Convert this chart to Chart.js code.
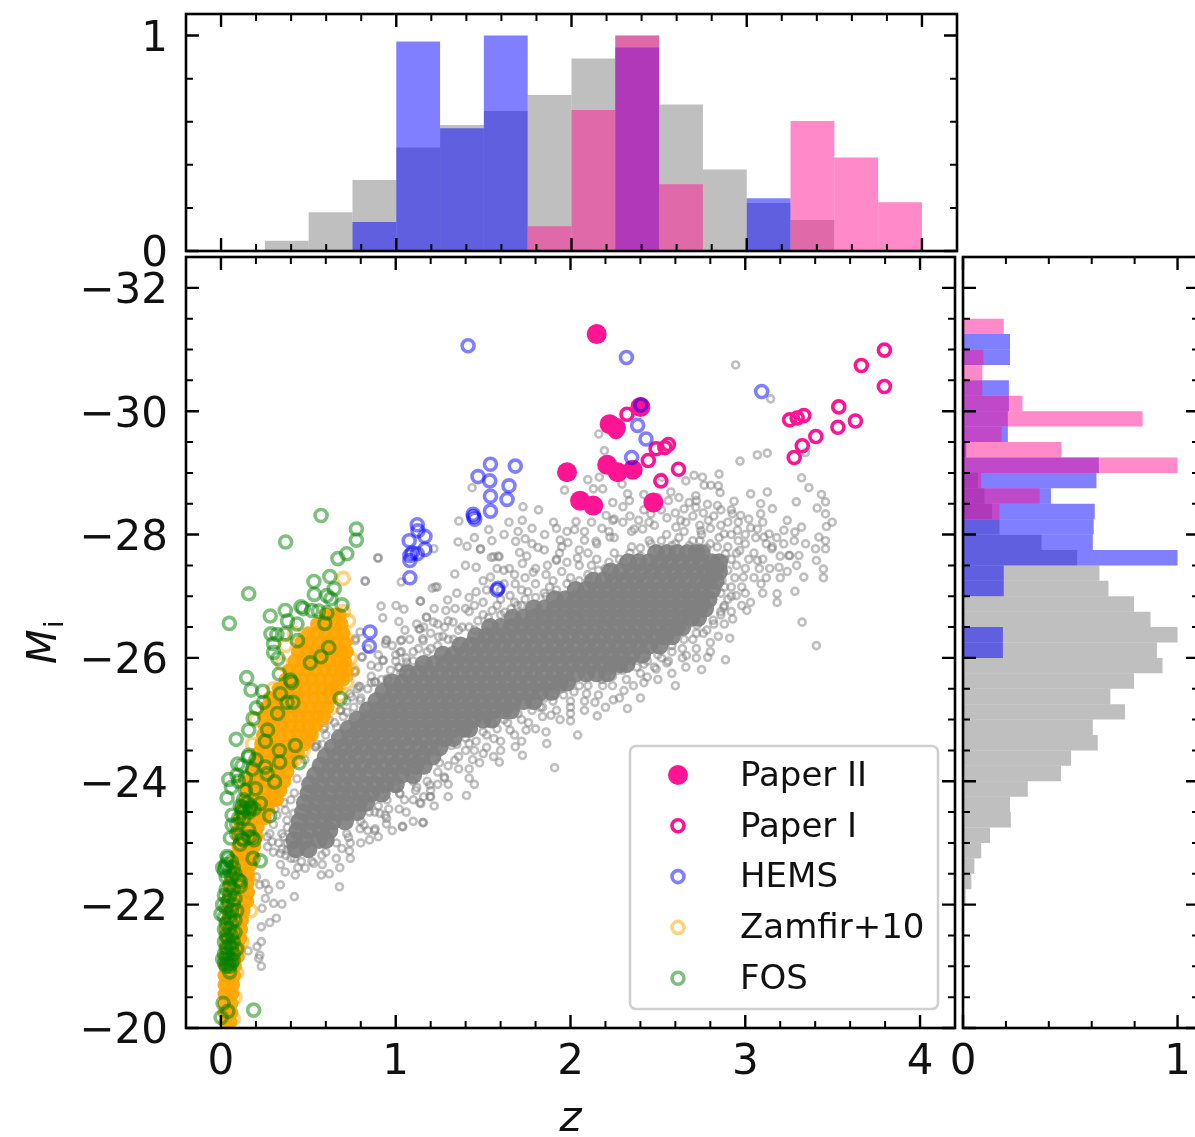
<!DOCTYPE html>
<html>
<head>
<meta charset="utf-8">
<title>Mi vs z</title>
<script src="https://cdn.jsdelivr.net/npm/chart.js@4"></script>
<style>
  html, body { margin: 0; padding: 0; background: #fff; overflow: hidden; }
  #page { position: relative; width: 1195px; height: 1137px; overflow: hidden; }
  canvas { position: absolute; filter: blur(0.6px); }
</style>
</head>
<body>
<div id="page">
  <canvas id="top" width="965" height="270" style="left:0;top:0"></canvas>
  <canvas id="side" width="265" height="892" style="left:940px;top:245px"></canvas>
  <canvas id="main" width="965" height="892" style="left:0;top:245px"></canvas>
</div>
<script>
const FONT = '"DejaVu Sans"'

// histogram bins
const zBins = [0.375, 0.625, 0.875, 1.125, 1.375, 1.625, 1.875, 2.125, 2.375, 2.625, 2.875, 3.125, 3.375, 3.625, 3.875]
const zHistGrey = [0.047, 0.18, 0.33, 0.48, 0.585, 0.65, 0.724, 0.893, 1.0, 0.68, 0.378, 0.223, 0.144, 0, 0]
const zHistHems = [0, 0, 0.135, 0.972, 0.57, 1.0, 0, 0, 0.945, 0, 0, 0.245, 0, 0, 0]
const zHistPink = [0, 0, 0, 0, 0, 0, 0.115, 0.654, 1.0, 0.31, 0, 0, 0.603, 0.434, 0.226]

const mBins = [-31.375, -31.125, -30.875, -30.625, -30.375, -30.125, -29.875, -29.625, -29.375, -29.125,
  -28.875, -28.625, -28.375, -28.125, -27.875, -27.625, -27.375, -27.125, -26.875, -26.625,
  -26.375, -26.125, -25.875, -25.625, -25.375, -25.125, -24.875, -24.625, -24.375, -24.125,
  -23.875, -23.625, -23.375, -23.125, -22.875, -22.625, -22.375, -22.125]
const mHistGrey = [0, 0, 0, 0, 0, 0, 0, 0, 0.01, 0, 0.07, 0.1, 0.135, 0.17, 0.366, 0.532, 0.636, 0.678, 0.797, 0.874,
  1.0, 0.904, 0.93, 0.797, 0.687, 0.755, 0.605, 0.628, 0.504, 0.457, 0.302, 0.219, 0.223, 0.126, 0.085, 0.053, 0.039, 0.012]
const mHistHems = [0, 0.219, 0.219, 0, 0.214, 0.214, 0.209, 0.209, 0.015, 0.633, 0.622, 0.41, 0.614, 0.609, 0.605, 1.0, 0.19, 0.19, 0, 0,
  0.186, 0.186, 0, 0, 0, 0, 0, 0, 0, 0, 0, 0, 0, 0, 0, 0, 0, 0]
const mHistPink = [0.19, 0, 0.095, 0.09, 0.09, 0.277, 0.837, 0.18, 0.459, 1.0, 0.085, 0.357, 0.17, 0, 0, 0, 0, 0, 0, 0,
  0, 0, 0, 0, 0, 0, 0, 0, 0, 0, 0, 0, 0, 0, 0, 0, 0, 0]

// scatter samples, [z, Mi]
const paperII = [[2.15,-31.25],[2.224,-29.79],[2.26,-29.73],[1.98,-29.01],[2.21,-29.13],[2.27,-29.01],[2.356,-29.05],[2.055,-28.55],[2.13,-28.47],[2.474,-28.52],[2.40,-30.07]]
const paperI = [[3.796,-30.99],[3.664,-30.74],[3.796,-30.40],[3.535,-30.07],[3.63,-29.84],[3.53,-29.74],[3.404,-29.59],[3.335,-29.93],[3.297,-29.89],[3.254,-29.86],[3.326,-29.44],[3.28,-29.25],[2.618,-29.06],[2.56,-29.46],[2.54,-29.41],[2.49,-29.39],[2.445,-29.2],[2.517,-28.87],[2.323,-29.95],[2.40,-30.07],[2.26,-29.67]]
const hems = [[1.414,-31.06],[2.32,-30.87],[3.094,-30.32],[2.403,-30.10],[2.384,-29.77],[2.432,-29.55],[2.35,-29.25],[1.542,-29.14],[1.684,-29.11],[1.471,-28.94],[1.538,-28.87],[1.648,-28.79],[1.542,-28.62],[1.637,-28.57],[1.542,-28.38],[1.443,-28.33],[1.452,-28.25],[1.445,-28.29],
  [1.123,-28.16],[1.127,-28.06],[1.167,-27.97],[1.077,-27.9],[1.167,-27.76],[1.123,-27.69],[1.081,-27.66],[1.081,-27.58],[1.094,-27.7],[1.081,-27.3],[0.853,-26.42],[0.849,-26.19],[1.585,-27.13],[1.58,-27.1]]
const fos = [[0.573,-28.31],[0.775,-28.09],[0.775,-27.91],[0.37,-27.88],[0.72,-27.69],[0.669,-27.61],[0.623,-27.32],[0.532,-27.24],[0.159,-27.04],[0.648,-27.12],[0.534,-27.03],[0.629,-26.96],[0.606,-27.01],[0.693,-26.86],[0.048,-26.56],[0.282,-26.68],[0.368,-26.77],[0.458,-26.83],[0.471,-26.80],[0.52,-26.77],[0.558,-26.76],[0.606,-26.73],[0.381,-26.6],[0.594,-26.56],[0.435,-26.55],[0.286,-26.39],[0.32,-26.38],[0.368,-26.39],[0.438,-26.28],[0.301,-26.23],[0.301,-26.09],[0.326,-25.99],[0.617,-26.17],[0.572,-26.02],[0.511,-25.92],[0.147,-25.68],[0.172,-25.48],[0.334,-25.74],[0.397,-25.64],[0.405,-25.6],[0.239,-25.46],[0.244,-25.28],[0.34,-25.42],[0.378,-25.28],[0.412,-25.28],[0.682,-25.34],[0.324,-25.1],[0.203,-25.19],[0.184,-25.02],[0.159,-24.83],[0.087,-24.68],[0.267,-24.83],[0.254,-24.65],[0.425,-24.58],[0.334,-24.5],[0.159,-24.42],[0.448,-24.3],
  [0.096,-24.28],[0.157,-24.39],[0.045,-24.03],[0.092,-24.1],[0.254,-24.23],[0.264,-24.12],[0.307,-23.99],[0.336,-24.31],[0.035,-23.73],[0.14,-23.85],[0.197,-23.88],[0.121,-23.58],[0.168,-23.56],[0.225,-23.64],[0.279,-23.44],[0.064,-23.45],[0.064,-23.29],[0.159,-23.21],[0.178,-23.09],[0.121,-23.07],[0.054,-23.08],[0.184,-22.75],[0.225,-22.71],[0.035,-22.78],[0.026,-22.61],[0.111,-22.37],
  [0.13,-23.7],[0.15,-23.65],[0.11,-23.6],[0.14,-23.55],[0.17,-23.6],[0.12,-23.5],[0.16,-23.5],[0.19,-23.55],[0.1,-23.4],[0.13,-23.4],[0.09,-23.15],[0.13,-23.05],[0.16,-23.1],[0.19,-23.05],[0.11,-22.98],[0.09,-23.3],[0.1,-24.0],[0.14,-24.05],[0.18,-24.2],[0.2,-24.35],[0.12,-24.25],[0.06,-23.9],
  [0.04,-22.75],[0.06,-22.7],[0.03,-22.65],[0.07,-22.6],[0.02,-22.55],[0.05,-22.55],[0.08,-22.5],[0.03,-22.45],[0.06,-22.45],[0.01,-22.6],[0.1,-22.4],[0.05,-22.3],[0.03,-22.25],[0.07,-22.25],[0.11,-22.3],[0.02,-22.15],[0.05,-22.15],[0.08,-22.1],[0.04,-22.05],[0.07,-22.0],[0.01,-22],[0.03,-21.95],[0.06,-21.9],[0.09,-21.9],[0.0,-21.85],[0.02,-21.8],[0.05,-21.8],[0.08,-21.75],[0.03,-21.7],[0.06,-21.7],[0.02,-21.6],[0.05,-21.6],[0.08,-21.55],[0.03,-21.5],[0.06,-21.5],[0.04,-21.45],[0.02,-21.4],[0.07,-21.4],[0.05,-21.35],[0.03,-21.3],[0.06,-21.3],[0.09,-21.28],[0.02,-21.2],[0.04,-21.2],[0.07,-21.2],[0.01,-21.12],[0.03,-21.12],[0.05,-21.12],[0.07,-21.1],[0.02,-21.05],[0.04,-21.05],[0.06,-21.05],[0.03,-21.0],[0.05,-21.0],
  [0.05,-20.91],[0.012,-20.4],[0.04,-20.27],[0.001,-20.17],[0.187,-20.29]]
const zamfirRings = [[0.70,-27.29],[0.74,-26.0],[0.75,-25.8],[0.72,-26.3],[0.73,-26.6],[0.7,-26.75],[0.72,-25.6],[0.68,-25.4],[0.64,-25.2],[0.58,-25],[0.5,-24.7],[0.47,-24.5],[0.42,-24.35],[0.36,-24],[0.3,-23.8],[0.25,-23.5],[0.2,-23.1],[0.16,-22.4],[0.17,-21.9],[0.12,-21.4],[0.1,-21.2],[0.09,-20.9],[0.08,-20.5],[0.07,-20.15],[0.42,-26.4],[0.37,-26.2],[0.3,-25.5],[0.2,-25],[0.18,-24.6],[0.13,-24.0],[0.35,-25.9],[0.1,-23.2],[0.05,-22.2]]
// packed part of the orange cloud, one list of z per Mi row
const zamfirCoreM = [-20.1,-20.25,-20.4,-20.55,-20.7,-20.85,-21,-21.15,-21.3,-21.45,-21.6,-21.75,-21.9,-22.05,-22.2,-22.35,-22.5,-22.65,-22.8,-22.95,-23.1,-23.25,-23.4,-23.55,-23.7,-23.85,-24,-24.15,-24.3,-24.45,-24.6,-24.75,-24.9,-25.05,-25.2,-25.35,-25.5,-25.65,-25.8,-25.95,-26.1,-26.25,-26.4,-26.55,-26.7]
const zamfirCoreZ = [[.025,.055],[.02,.06],[.02,.06],[.02,.065],[.02,.07],[.02,.075],[.025,.08],[.025,.095],[.03,.1],[.03,.07,.11],[.03,.07,.115],[.035,.08,.12],[.04,.085,.13],[.04,.09,.15],[.05,.1,.155],[.05,.1,.15],[.07,.11,.155],[.08,.12,.17],[.09,.13,.18],[.1,.15,.19],[.1,.15,.2],[.11,.16,.21],[.11,.16,.21,.25],[.12,.17,.22,.27],[.14,.19,.24,.29,.32],[.15,.2,.25,.3,.34],[.16,.21,.26,.31,.36],[.18,.23,.28,.33,.38],[.2,.25,.3,.35,.4],[.21,.26,.31,.36,.41,.44],[.23,.28,.33,.38,.43,.48],[.24,.29,.34,.39,.44,.49,.52],[.25,.3,.35,.4,.45,.5,.54],[.25,.3,.35,.4,.45,.5,.55,.59],[.26,.31,.36,.41,.46,.51,.56,.61],[.28,.33,.38,.43,.48,.53,.58,.63],[.33,.38,.43,.48,.53,.58,.63,.66],[.37,.42,.47,.52,.57,.62,.67,.7],[.39,.44,.49,.54,.59,.64,.69,.72],[.42,.47,.52,.57,.62,.67,.71],[.44,.49,.54,.59,.64,.69,.72],[.46,.51,.56,.61,.66,.71],[.5,.55,.6,.65,.7],[.55,.6,.65,.69],[.6,.65,.68]]
const greyRings = [[2.945,-30.75],[3.145,-30.2],[2.162,-29.63],[2.194,-29.36],[2.97,-29.19],[3.069,-29.29],[3.126,-29.32],[3.345,-29.33],[1.437,-28.76],[2.099,-28.89],[2.165,-28.93],[1.966,-28.72],[2.131,-28.74],[2.184,-28.74],[2.295,-28.82],[2.327,-28.66],[2.337,-28.55],[2.242,-28.52],[1.728,-28.45],[1.817,-28.4],[1.361,-28.22],[1.648,-28.2],[1.724,-28.23],[1.903,-28.2],[1.532,-28.08],[2.032,-28.21],[2.023,-28.08],[2.204,-28.31],[2.242,-28.23],[2.39,-28.23],[2.365,-28.09],[2.413,-28.09],[2.46,-28.335],[2.552,-28.27],[2.631,-28.23],[2.603,-28.12],[2.574,-28.69],[2.523,-28.93],[2.66,-28.87],[2.707,-28.96],[2.755,-28.93],[2.85,-28.98],[2.765,-28.8],[2.803,-28.8],[2.846,-28.79],[2.856,-28.68],[2.717,-28.63],[2.679,-28.52],[2.65,-28.415],[2.717,-28.44],[2.784,-28.49],[2.841,-28.47],[2.936,-28.54],[2.926,-28.335],[2.974,-28.31],[3.031,-28.66],[3.126,-28.69],[3.088,-28.5],[3.155,-28.42],[3.088,-28.335],[3.322,-28.92],[3.364,-28.76],[3.292,-28.53],[3.436,-28.65],[3.459,-28.53],[3.411,-28.43],[3.459,-28.335],[3.497,-28.2],[3.464,-28.13],[3.24,-28.23],[3.322,-28.12],[3.221,-28.07],[3.284,-28.04],[3.031,-28.11],[3.069,-28.09],[3.136,-28.01],[3.107,-27.96],[2.955,-28.07],[2.746,-28.06],[2.789,-28.23],[2.879,-28.01],[3.155,-27.8],[3.25,-27.66],[3.307,-27.66],[3.459,-27.9],[3.421,-27.96],[3.345,-27.85],[3.402,-27.77],[3.459,-27.77],[1.357,-27.88],[1.408,-27.81],[1.485,-27.76],[1.741,-27.93],[1.852,-28.0],[1.686,-27.89],[1.941,-27.91],[1.985,-27.87],[2.08,-27.91],[2.146,-27.89],[2.226,-27.96],[1.814,-27.79],[1.709,-27.71],[1.591,-27.64],[1.547,-27.63],[1.937,-27.7],
  [0.9,-27.62],[0.825,-27.24],[1.032,-27.23],[1.14,-26.92],[0.916,-26.84],[1.002,-26.85],[1.047,-26.79],[0.926,-26.65],[1.018,-26.59],[1.053,-26.45],[1.134,-26.47],[1.175,-26.66],[1.216,-26.58],[1.226,-27.15],[1.297,-26.94],[1.287,-26.77],[1.328,-26.58],[1.246,-26.34],[1.155,-26.31],[0.945,-26.28],[1.028,-26.28],[1.032,-26.1],[0.808,-26.02],[0.859,-25.88],[0.926,-25.96],[0.771,-26.31],[0.941,-26.23],[0.767,-25.77],[1.022,-25.84],[1.073,-25.74],[0.788,-25.54],[0.88,-25.61],[0.951,-25.66],[1.144,-25.88],[0.747,-25.37],[0.686,-25.15],[0.829,-25.2],[0.594,-24.88],[0.543,-24.56],[1.338,-27.36],[1.399,-27.5],[1.46,-27.47],[1.485,-27.77],[1.562,-27.64],[1.587,-27.65],[1.542,-27.31],[1.619,-27.42],[1.684,-27.2],[1.725,-27.53],[1.787,-27.39],[1.868,-27.5],[1.919,-27.58],[1.46,-27.07],[1.399,-26.8],[1.45,-26.85],[1.552,-26.77],[1.654,-27.01],[1.695,-26.85],[1.756,-27.07],[1.623,-26.74],
  [3.152,-27.77],[3.254,-27.66],[3.294,-27.5],[3.407,-27.58],[3.447,-27.44],[3.335,-27.31],[3.447,-27.3],[3.284,-27.08],[3.182,-27.04],[3.182,-26.9],[3.03,-26.9],[3.09,-27.2],[2.989,-27.31],[3.193,-27.47],[3.07,-27.58],[2.968,-27.74],[2.887,-27.69],[2.867,-27.26],[2.948,-27.01],[3.009,-26.77],[2.928,-26.63],[2.877,-26.82],[2.816,-26.61],[3.325,-26.58],[3.407,-26.2],[2.911,-26.32],[2.846,-26.35],[2.724,-26.53],[2.785,-26.01],[2.887,-25.97],[2.75,-25.81],[2.663,-26.04],[2.551,-25.92],[2.49,-25.82],[2.439,-25.69],[2.326,-25.18],[2.153,-25.06],[2.245,-25.32],[2.306,-25.47],[2.184,-25.55],[2.092,-25.42],[2.0,-24.98],[2.041,-24.75],[1.864,-24.61],[1.909,-24.22],[1.725,-24.42],[1.684,-24.56],[1.593,-24.31],[1.746,-24.83],[1.654,-24.83],[1.562,-24.69],[1.888,-25.07],[2.0,-25.2],[1.827,-25.2],[1.909,-25.39],[1.45,-23.95],[1.405,-23.77],[1.2,-23.75],[1.144,-23.64],[1.155,-23.33],[1.038,-23.27],[0.947,-23.31],[0.879,-23.2],[1.338,-24.34],[1.277,-24.07],[1.195,-23.94],[1.114,-23.85],[1.022,-23.8],[0.91,-23.48],[0.818,-23.29],[1.501,-24.45],[1.42,-24.61],[1.318,-24.58],
  [0.42,-23.81],[0.34,-23.8],[0.435,-24.04],[1.138,-23.65],[1.196,-23.75],[1.024,-23.8],[1.158,-23.33],[1.04,-23.26],[0.948,-23.4],[0.882,-23.23],[0.796,-23.23],[0.73,-23.09],[0.577,-22.8],[0.735,-22.87],[0.692,-22.91],[0.53,-22.67],[0.482,-22.59],[0.574,-22.48],[0.678,-22.29],[0.42,-22.13],[0.425,-22.48],[0.368,-22.53],[0.34,-22.32],[0.264,-23.1],[0.349,-23.15],[0.292,-23.02],[0.267,-22.94],[0.368,-23.53],[0.416,-23.48],[0.378,-23.37],[0.435,-23.1],[0.34,-22.83],[0.378,-22.88],[0.222,-22.32],[0.254,-22.34],[0.203,-22.45],[0.273,-22.24],[0.254,-22.1],[0.302,-22.02],[0.349,-22.01],[0.235,-21.94],[0.317,-21.78],[0.279,-21.71],[0.231,-21.64],[0.231,-21.4],[0.206,-21.32],[0.155,-21.25],[0.216,-21.13],[0.231,-21.0],[0.222,-21.18],
  [0.897,-27.62],[0.825,-27.25],[1.218,-27.77],[1.209,-27.13],[1.237,-27.15],[1.142,-26.92],[1.177,-26.66],[0.796,-26.42],[0.768,-26.28],[0.948,-26.29],[1.034,-26.29],[1.139,-26.47],[1.157,-26.28],[1.024,-26.09],[0.929,-25.96],[0.806,-26.01],[0.768,-25.79],[0.73,-25.68],[1.063,-25.93],[1.015,-25.85],[0.952,-25.64],[0.882,-25.61],[0.796,-25.53],[0.739,-25.42],[0.796,-25.31],[0.72,-25.12],[0.682,-25.15],[0.587,-24.85],[0.492,-24.66],[0.54,-24.56],[0.663,-24.88],
  [1.5,-26.9],[1.6,-26.95],[1.72,-27.1],[1.8,-27.2],[1.85,-27.05],[1.9,-27.25],[1.95,-27.4],[2.0,-27.3],[2.05,-27.5],[2.1,-27.35],[2.15,-27.6],[2.2,-27.45],[2.25,-27.7],[2.3,-27.55],[2.35,-27.8],[2.4,-27.65],[2.45,-27.9],[2.5,-27.75],[2.55,-28.0],[2.6,-27.85],[2.65,-28.05],[2.7,-27.9],[2.75,-28.0],[2.8,-27.85],[2.85,-27.95],[2.9,-27.8],[2.95,-27.7],[3.0,-27.85],[3.05,-27.7],[3.1,-27.6],[3.0,-27.45],[3.05,-27.3],[2.95,-27.5],[2.92,-27.15],[3.0,-27.05],[3.1,-27.05],[2.98,-26.85],[2.9,-26.95],[2.86,-26.75],[1.65,-27.45],[1.75,-27.65],[1.85,-27.75],[1.95,-27.8],[2.05,-27.75],[2.15,-27.85],[2.25,-27.95],[2.35,-28.05],[2.45,-28.2],[1.3,-26.6],[1.38,-26.5],[1.42,-26.75],[1.5,-26.7],[1.58,-26.85],[1.68,-26.9],[1.74,-26.95],[1.2,-26.4],[1.3,-26.3],[1.1,-26.1],[1.2,-26.15],[1.0,-25.95],
  [1.4,-24.7],[1.5,-24.8],[1.45,-24.5],[1.55,-24.95],[1.62,-25.0],[1.7,-25.1],[1.78,-25.3],[1.85,-25.35],[1.95,-25.5],[2.0,-25.6],[2.05,-25.55],[2.1,-25.7],[2.2,-25.7],[2.27,-25.8],[2.35,-25.95],[2.42,-25.9],[2.5,-26.05],[2.58,-26.2],[2.65,-26.3],[2.72,-26.4],[2.78,-26.45],[1.25,-24.3],[1.35,-24.6],[1.1,-24.0],[1.0,-23.9],[0.9,-23.6],[0.95,-23.7],[0.85,-23.5],[0.85,-23.05],[0.8,-23.0],[0.3,-23.3],[0.35,-22.9],[0.32,-23.45],[0.38,-23.0],[0.4,-22.75]]
// rings crowding both edges of the packed band
const greyBelt = [[.48,-24.35],[.55,-24.6],[.52,-24.75],[.6,-24.75],[.58,-24.6],[.65,-24.95],[.7,-25.05],[.62,-25.0],[.72,-25.3],[.76,-25.2],[.8,-25.35],[.78,-25.5],[.84,-25.5],[.86,-25.7],[.92,-25.65],[.9,-25.85],[.97,-25.8],[1.03,-25.75],[1.0,-26.05],[1.06,-26.0],[1.1,-25.95],[1.13,-26.15],[1.18,-26.1],[1.24,-26.2],[1.27,-26.35],[1.33,-26.3],[1.28,-26.5],[1.36,-26.45],[1.42,-26.5],[1.47,-26.6],[1.45,-26.45],[1.53,-26.65],[1.6,-26.7],[1.66,-26.8],[1.72,-26.85],[1.8,-26.98],[1.86,-27.0],[1.92,-27.1],[1.98,-27.2],[1.88,-27.15],[2.05,-27.25],[2.1,-27.25],[2.16,-27.42],[2.22,-27.55],[2.28,-27.6],[2.12,-27.5],[2.34,-27.7],[2.4,-27.78],[2.46,-27.85],[2.52,-27.9],[2.58,-27.82],[2.62,-27.95],[2.68,-27.82],[2.74,-27.9],[2.78,-27.78],[2.84,-27.8],[2.88,-27.6],[2.92,-27.6],[2.9,-27.42],[2.94,-27.3],[2.98,-27.15],[2.88,-27.15],[2.92,-27.0],[2.86,-27.05],
  [.52,-22.7],[.6,-22.85],[.66,-23.0],[.72,-23.15],[.8,-23.35],[.88,-23.5],[.96,-23.55],[1.05,-23.7],[1.12,-23.9],[1.18,-24.0],[1.24,-24.15],[1.3,-24.25],[1.36,-24.4],[1.4,-24.5],[1.46,-24.65],[1.52,-24.75],[1.58,-24.85],[1.64,-24.95],[1.72,-25.0],[1.78,-25.15],[1.84,-25.2],[1.9,-25.3],[1.96,-25.4],[2.02,-25.45],[2.1,-25.55],[2.18,-25.65],[2.24,-25.7],[2.3,-25.8],[2.38,-25.85],[2.44,-25.95],[2.52,-26.0],[2.58,-26.1],[2.64,-26.15],[2.7,-26.3],[2.76,-26.4],[2.82,-26.55],[2.86,-26.7],[2.88,-26.85],
  [.58,-22.65],[.66,-22.75],[.74,-23.0],[.84,-23.2],[.94,-23.45],[1.02,-23.55],[1.1,-23.7],[1.2,-23.85],[1.28,-24.05],[1.36,-24.2],[1.44,-24.35],[1.52,-24.55],[1.6,-24.65],[1.68,-24.75],[1.76,-24.95],[1.84,-25.05],[1.92,-25.15],[2.0,-25.3],[2.08,-25.3],[2.16,-25.4],[2.24,-25.55],[2.32,-25.65],[2.4,-25.75],[2.48,-25.85],[2.56,-25.95],[2.64,-26.0],[2.72,-26.15],[2.8,-26.25],[2.88,-26.55],[2.92,-26.75],
  [.36,-23.65],[.4,-23.7],[.38,-23.25],[.41,-23.2],[.36,-23.1],[.4,-22.95],[.33,-23.0],[.37,-22.8],[.42,-22.75],[.46,-22.7],[.34,-22.65],[.3,-22.85],[.28,-23.15],[.31,-23.55],[.44,-22.6]]
// looser field above and below the band
const greyField = [[2.22,-28.05],[2.3,-28.2],[2.34,-28.3],[2.42,-28.4],[2.48,-28.15],[2.52,-28.4],[2.56,-28.55],[2.6,-28.35],[2.62,-28.6],[2.66,-28.2],[2.7,-28.3],[2.74,-28.15],[2.76,-28.35],[2.8,-28.1],[2.82,-28.3],[2.86,-28.15],[2.9,-28.2],[2.92,-28.4],[2.96,-28.2],[3.0,-28.0],[3.02,-28.25],[3.06,-27.95],[3.1,-28.2],[3.12,-27.85],[3.18,-27.95],[3.2,-27.65],[3.22,-27.85],[3.28,-27.9],[3.14,-27.45],[3.2,-27.3],[3.12,-27.3],[3.24,-27.4],[3.02,-27.6],[3.08,-27.45],[2.96,-27.9],[2.92,-28.0],[2.86,-28.4],[2.72,-28.55],[2.5,-28.6],[2.42,-28.65],[2.3,-28.45],[2.25,-28.25],[2.18,-28.1],[2.12,-28.2],[2.08,-28.05],[1.98,-28.05],[1.92,-28.1],[1.78,-28.1],[1.7,-28.05],[1.62,-28.0],[1.55,-27.9],[1.45,-27.95],
  [1.5,-27.25],[1.58,-27.45],[1.62,-27.2],[1.68,-27.35],[1.74,-27.3],[1.8,-27.45],[1.86,-27.35],[1.92,-27.6],[1.98,-27.55],[2.04,-27.62],[2.1,-27.7],[1.78,-27.85],[1.35,-27.05],[1.42,-26.98],[1.52,-27.1],[1.6,-27.1],[1.34,-26.8],[1.22,-26.8],[1.16,-26.5],[1.24,-26.55],[1.08,-26.3],[1.12,-26.55],[1.06,-25.85],[.98,-26.2],[.9,-26.05],[.86,-25.6],[.84,-26.15],
  [2.0,-25.1],[2.08,-25.15],[2.14,-25.28],[2.2,-25.2],[2.28,-25.35],[2.36,-25.55],[2.42,-25.6],[2.5,-25.65],[2.58,-25.75],[2.66,-25.85],[2.72,-26.0],[2.8,-26.1],[2.6,-25.55],[2.4,-25.35],[1.8,-24.85],[1.86,-24.8],[1.72,-24.65],[1.94,-25.0],[1.6,-24.5],[1.48,-24.3],[1.42,-24.2],[1.3,-23.95],[1.24,-23.95],[1.16,-23.75],[1.06,-23.5],[.98,-23.2],[.9,-23.1],[.74,-22.75],[.68,-22.6],[.62,-22.5],[1.1,-23.35],[1.22,-23.6],[1.3,-23.75],[1.42,-24.05],[1.56,-24.4]]
// packed part of the grey band, one list of z per Mi row
const greyCoreM = [-22.9,-23.05,-23.2,-23.35,-23.5,-23.65,-23.8,-23.95,-24.1,-24.25,-24.4,-24.55,-24.7,-24.85,-25,-25.15,-25.3,-25.45,-25.6,-25.75,-25.9,-26.05,-26.2,-26.35,-26.5,-26.65,-26.8,-26.95,-27.1,-27.25,-27.4,-27.55,-27.7]
const greyCoreZ = [[.43,.5],[.42,.48,.56,.6],[.44,.5,.57,.62],[.45,.52,.58,.64,.71],[.47,.53,.6,.65,.72,.78],[.48,.55,.61,.67,.72,.79,.83],[.5,.56,.62,.69,.74,.8,.86,.92],[.51,.57,.64,.7,.76,.82,.88,.94,1.0],[.54,.6,.66,.72,.78,.84,.91,.97,1.03,1.1],[.57,.63,.69,.75,.81,.87,.93,.99,1.05,1.11,1.16],[.6,.66,.72,.78,.85,.9,.97,1.03,1.09,1.15,1.21],[.64,.7,.76,.82,.88,.94,1.0,1.06,1.13,1.19,1.25],[.68,.74,.8,.86,.92,.98,1.04,1.1,1.16,1.22,1.28,1.33],[.73,.79,.85,.91,.97,1.03,1.09,1.15,1.21,1.27,1.33,1.39,1.42],[.78,.84,.9,.96,1.02,1.08,1.14,1.2,1.26,1.32,1.38,1.44,1.5,1.55],[.84,.9,.96,1.02,1.08,1.14,1.2,1.26,1.32,1.38,1.44,1.5,1.56,1.62,1.66],[.89,.95,1.01,1.07,1.13,1.19,1.25,1.31,1.37,1.43,1.49,1.55,1.61,1.67,1.73,1.79],[.93,.99,1.05,1.11,1.17,1.23,1.29,1.35,1.41,1.47,1.53,1.59,1.65,1.71,1.77,1.83,1.89],[.98,1.04,1.1,1.16,1.22,1.28,1.34,1.4,1.46,1.52,1.58,1.64,1.7,1.76,1.82,1.88,1.94,1.98],
  [1.07,1.13,1.19,1.25,1.31,1.37,1.43,1.49,1.55,1.61,1.67,1.73,1.79,1.85,1.91,1.97,2.03,2.09,2.15,2.21],[1.16,1.22,1.28,1.34,1.4,1.46,1.52,1.58,1.64,1.7,1.76,1.82,1.88,1.94,2.0,2.06,2.12,2.18,2.24,2.28,2.32],[1.27,1.33,1.39,1.45,1.51,1.57,1.63,1.69,1.75,1.81,1.87,1.93,1.99,2.05,2.11,2.17,2.23,2.29,2.35,2.41],[1.37,1.43,1.49,1.55,1.61,1.67,1.73,1.79,1.85,1.91,1.97,2.03,2.09,2.15,2.21,2.27,2.33,2.39,2.45,2.51],[1.46,1.52,1.58,1.64,1.7,1.76,1.82,1.88,1.94,2.0,2.06,2.12,2.18,2.24,2.3,2.36,2.42,2.48,2.54,2.58],[1.54,1.6,1.66,1.72,1.78,1.84,1.9,1.96,2.02,2.08,2.14,2.2,2.26,2.32,2.38,2.44,2.5,2.56,2.61,2.64],[1.67,1.73,1.79,1.85,1.91,1.97,2.03,2.09,2.15,2.21,2.27,2.33,2.39,2.45,2.51,2.57,2.63,2.69,2.73],[1.79,1.85,1.91,1.97,2.03,2.09,2.15,2.21,2.27,2.33,2.39,2.45,2.51,2.57,2.63,2.69,2.74,2.77],[1.91,1.97,2.03,2.09,2.15,2.21,2.27,2.33,2.39,2.45,2.51,2.57,2.63,2.69,2.75,2.79],[2.03,2.09,2.15,2.21,2.27,2.33,2.39,2.45,2.51,2.57,2.63,2.69,2.75,2.81],[2.13,2.19,2.25,2.31,2.37,2.43,2.49,2.55,2.61,2.67,2.73,2.79,2.83],[2.23,2.29,2.35,2.41,2.47,2.53,2.59,2.65,2.71,2.77,2.82,2.85],[2.33,2.39,2.45,2.51,2.57,2.63,2.69,2.75,2.81,2.85],[2.49,2.55,2.61,2.67,2.72,2.75]]

// tick positions
const zMajor = [0, 1, 2, 3, 4]
const zMinor = [0.2,0.4,0.6,0.8,1.2,1.4,1.6,1.8,2.2,2.4,2.6,2.8,3.2,3.4,3.6,3.8]
const mMajor = [-32, -30, -28, -26, -24, -22, -20]
const mMinor = [-32.5,-31.5,-31,-30.5,-29.5,-29,-28.5,-27.5,-27,-26.5,-25.5,-25,-24.5,-23.5,-23,-22.5,-21.5,-21,-20.5]
const histMajor = [0, 1]
const histMinor = [0.2, 0.4, 0.6, 0.8]

const legendLabels = ["Paper II", "Paper I", "HEMS", "Zamfir+10", "FOS"]

const PINK = "#ff1493"
const PINK_BAR = "rgba(255,20,147,0.5)"
const BLUE = "rgba(0,0,255,0.5)"
const GREY = "rgba(128,128,128,0.5)"
const ORANGE = "rgba(255,165,0,0.5)"
const GREEN = "rgba(0,128,0,0.5)"

const pairs = list => list.map(p => ({ x: p[0], y: p[1] }))
const rows = (ms, zs) => ms.flatMap((m, i) => zs[i].map(z => ({ x: z, y: m })))
// empty first line pushes the label down half a line, matplotlib centres digits lower than canvas does
const lowered = v => ["", String(v).replace("-", "\u2212")]

// black box and inward ticks on all four sides
const frame = {
  id: "frame",
  afterDatasetsDraw(chart, args, opts) {
    const { ctx, chartArea: a, scales } = chart
    const mark = (vals, len, w) => {
      ctx.lineWidth = w
      ctx.beginPath()
      vals.x.forEach(v => {
        const p = scales.x.getPixelForValue(v)
        ctx.moveTo(p, a.bottom); ctx.lineTo(p, a.bottom - len)
        ctx.moveTo(p, a.top); ctx.lineTo(p, a.top + len)
      })
      vals.y.forEach(v => {
        const p = scales.y.getPixelForValue(v)
        ctx.moveTo(a.left, p); ctx.lineTo(a.left + len, p)
        ctx.moveTo(a.right, p); ctx.lineTo(a.right - len, p)
      })
      ctx.stroke()
    }
    ctx.save()
    ctx.strokeStyle = "#000"
    mark(opts.major, 13, 2.4)
    mark(opts.minor, 7, 2)
    ctx.lineWidth = 2.6
    ctx.strokeRect(a.left, a.top, a.right - a.left, a.bottom - a.top)
    ctx.restore()
  }
}

// legend and the Mi label, both need more than the stock options give
const annotations = {
  id: "annotations",
  afterDraw(chart) {
    const ctx = chart.ctx
    const oy = 245
    ctx.save()
    ctx.fillStyle = "rgba(255,255,255,0.8)"
    ctx.strokeStyle = "#cfcfcf"
    ctx.lineWidth = 2.5
    ctx.beginPath()
    ctx.roundRect(630, 746 - oy, 308, 263, 6)
    ctx.fill()
    ctx.stroke()

    ctx.textBaseline = "middle"
    ctx.textAlign = "left"
    legendLabels.forEach((label, i) => {
      const y = 775 + i * 50.8 - oy
      ctx.beginPath()
      if (i === 0) {
        ctx.arc(678, y, 10, 0, Math.PI * 2)
        ctx.fillStyle = PINK
        ctx.fill()
      } else {
        ctx.arc(678, y, 6, 0, Math.PI * 2)
        ctx.lineWidth = 3.6
        ctx.strokeStyle = [PINK, BLUE, ORANGE, GREEN][i - 1]
        ctx.stroke()
      }
      ctx.fillStyle = "#111"
      ctx.font = "34px " + FONT
      ctx.fillText(label, 740, y + 2)
    })

    ctx.translate(43, 640 - oy)
    ctx.rotate(-Math.PI / 2)
    ctx.textAlign = "left"
    ctx.textBaseline = "alphabetic"
    ctx.fillStyle = "#111"
    ctx.font = "italic 40px " + FONT
    ctx.fillText("M", -24, 13)
    ctx.font = "27px " + FONT
    ctx.fillText("i", 12, 20)
    ctx.restore()
  }
}

const tickFont = { family: FONT, size: 42 }
const yTickFont = { family: FONT, size: 42, lineHeight: "9px" }
const noGrid = { display: false, drawTicks: false }
const fixed = size => axis => {
  if (axis.isHorizontal()) axis.height = size
  else axis.width = size
  // label overhang must not shrink the plot box
  axis.paddingTop = axis.paddingBottom = axis.paddingLeft = axis.paddingRight = 0
}
const setTicks = vals => axis => { axis.ticks = vals.map(v => ({ value: v })) }

const barSet = (label, x, y, color) => ({
  label,
  data: x.map((v, i) => ({ x: v, y: y[i] })),
  backgroundColor: color,
  borderWidth: 0,
  inflateAmount: 0,
  grouped: false,
  barPercentage: 1,
  categoryPercentage: 1,
  clip: 0
})

const ringSet = (label, data, color, radius, width) => ({
  label,
  data,
  pointRadius: radius,
  pointBorderWidth: width,
  pointBorderColor: color,
  pointBackgroundColor: "rgba(0,0,0,0)",
  showLine: false,
  clip: 0
})

const dotSet = (label, data, color, radius) => ({
  label,
  data,
  pointRadius: radius,
  pointBorderWidth: 0,
  pointBackgroundColor: color,
  showLine: false,
  clip: 0
})

Chart.defaults.animation = false
Chart.defaults.font.family = FONT

// top histogram, pink first so it paints last
new Chart(document.getElementById("top"), {
  type: "bar",
  plugins: [frame],
  data: {
    datasets: [
      barSet("Paper", zBins, zHistPink, PINK_BAR),
      barSet("HEMS", zBins, zHistHems, BLUE),
      barSet("All", zBins, zHistGrey, GREY)
    ]
  },
  options: {
    responsive: false,
    devicePixelRatio: 1,
    layout: { padding: { top: 14, right: 8, left: 0, bottom: 0 } },
    plugins: {
      legend: { display: false },
      tooltip: { enabled: false },
      frame: { major: { x: zMajor, y: histMajor }, minor: { x: zMinor, y: histMinor } }
    },
    scales: {
      x: {
        type: "linear", min: -0.2, max: 4.2, offset: false,
        grid: noGrid, border: { display: false },
        ticks: { display: false },
        afterBuildTicks: setTicks(zMajor),
        afterFit: fixed(19)
      },
      y: {
        min: 0, max: 1.1,
        grid: noGrid, border: { display: false },
        ticks: { font: yTickFont, color: "#111", padding: 18, autoSkip: false, callback: lowered },
        afterBuildTicks: setTicks(histMajor),
        afterFit: fixed(186)
      }
    }
  }
})

// side histogram runs off the right edge of the page like the original
new Chart(document.getElementById("side"), {
  type: "bar",
  plugins: [frame],
  data: {
    datasets: [
      barSet("Paper", mHistPink, mBins, PINK_BAR),
      barSet("HEMS", mHistHems, mBins, BLUE),
      barSet("All", mHistGrey, mBins, GREY)
    ]
  },
  options: {
    indexAxis: "y",
    responsive: false,
    devicePixelRatio: 1,
    layout: { padding: { top: 12, right: 6, left: 0, bottom: 0 } },
    plugins: {
      legend: { display: false },
      tooltip: { enabled: false },
      frame: { major: { x: histMajor, y: mMajor }, minor: { x: histMinor, y: mMinor } }
    },
    scales: {
      x: {
        type: "linear", min: 0, max: 1.1,
        grid: noGrid, border: { display: false },
        ticks: { font: tickFont, color: "#111", padding: 10, autoSkip: false, maxRotation: 0 },
        afterBuildTicks: setTicks(histMajor),
        afterFit: fixed(109)
      },
      y: {
        type: "linear", min: -32.5, max: -20, reverse: true, offset: false,
        grid: noGrid, border: { display: false },
        ticks: { display: false },
        afterBuildTicks: setTicks(mMajor),
        afterFit: fixed(23)
      }
    }
  }
})

// main scatter, first dataset paints on top
new Chart(document.getElementById("main"), {
  type: "scatter",
  plugins: [frame, annotations],
  data: {
    datasets: [
      ringSet("HEMS", pairs(hems), BLUE, 6, 3.6),
      ringSet("Paper I", pairs(paperI), PINK, 6, 3.6),
      dotSet("Paper II", pairs(paperII), PINK, 10),
      ringSet("FOS", pairs(fos), GREEN, 6, 3.6),
      ringSet("Zamfir+10", pairs(zamfirRings), ORANGE, 6, 3.6),
      dotSet("Zamfir+10 packed", rows(zamfirCoreM, zamfirCoreZ), "rgba(255,165,0,0.92)", 7),
      ringSet("Shen", pairs(greyRings.concat(greyBelt, greyField)), GREY, 3.5, 2.6),
      dotSet("Shen packed", rows(greyCoreM, greyCoreZ), "rgba(128,128,128,0.92)", 9)
    ]
  },
  options: {
    responsive: false,
    devicePixelRatio: 1,
    layout: { padding: { top: 12, right: 8, left: 0, bottom: 0 } },
    plugins: {
      legend: { display: false },
      tooltip: { enabled: false },
      frame: { major: { x: zMajor, y: mMajor }, minor: { x: zMinor, y: mMinor } }
    },
    scales: {
      x: {
        type: "linear", min: -0.2, max: 4.2,
        grid: noGrid, border: { display: false },
        title: { display: true, text: "z", color: "#111", padding: { top: 0, bottom: -8 }, font: { family: FONT, size: 42, style: "italic" } },
        ticks: { font: tickFont, color: "#111", padding: 10, autoSkip: false, maxRotation: 0 },
        afterBuildTicks: setTicks(zMajor),
        afterFit: fixed(109)
      },
      y: {
        type: "linear", min: -32.5, max: -20, reverse: true,
        grid: noGrid, border: { display: false },
        ticks: { font: yTickFont, color: "#111", padding: 18, autoSkip: false, callback: lowered },
        afterBuildTicks: setTicks(mMajor),
        afterFit: fixed(186)
      }
    }
  }
})
</script>
</body>
</html>
